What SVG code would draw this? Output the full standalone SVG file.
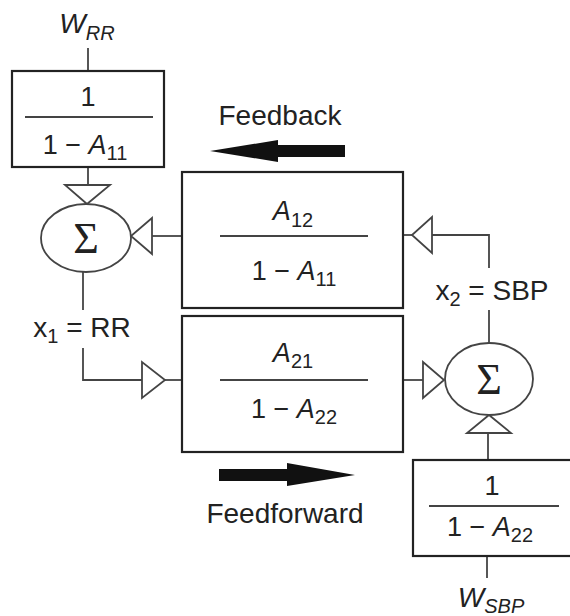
<svg xmlns="http://www.w3.org/2000/svg" width="570" height="616" viewBox="0 0 570 616">
<style>
text{font-family:"Liberation Sans",Arial,sans-serif;font-size:27px;fill:#222}
.lbl{font-size:28px}
.it{font-style:italic}
.sub{font-size:20px}
.sig{font-family:"Liberation Serif","Times New Roman",serif;font-size:44px;fill:#222}
.box{fill:#fff;stroke:#222;stroke-width:2.2}
.frac{stroke:#444;stroke-width:2}
.ln{fill:none;stroke:#444;stroke-width:1.8}
.tri{fill:#fff;stroke:#444;stroke-width:1.8;stroke-linejoin:miter}
.ell{fill:#fff;stroke:#444;stroke-width:1.8}
.big{fill:#111}
</style>
<rect width="570" height="616" fill="#fff"/>
<g id="connectors">
<line class="ln" x1="88" y1="48" x2="88" y2="71"/>
<line class="ln" x1="88" y1="167" x2="88" y2="185"/>
<polygon class="tri" points="65,185 110,185 87,204"/>
<polyline class="ln" points="182,236 152,236"/>
<polygon class="tri" points="152,218 152,254 131,236"/>
<line class="ln" x1="83" y1="272" x2="83" y2="310"/>
<polyline class="ln" points="83,348 83,380 142,380"/>
<polygon class="tri" points="142,362 142,398 165,380"/>
<line class="ln" x1="165" y1="380" x2="182" y2="380"/>
<line class="ln" x1="403" y1="380" x2="423" y2="380"/>
<polygon class="tri" points="423,362 423,398 444,380"/>
<line class="ln" x1="489" y1="343" x2="489" y2="310"/>
<polyline class="ln" points="489,268 489,235 432,235"/>
<polygon class="tri" points="432,217 432,253 412,235"/>
<line class="ln" x1="412" y1="235" x2="403" y2="235"/>
<polygon class="tri" points="467,433 511,433 489,415"/>
<line class="ln" x1="488" y1="433" x2="488" y2="460"/>
<line class="ln" x1="487" y1="556" x2="487" y2="578"/>
<polygon class="big" points="210,151 278,140 278,145 345,145 345,157 278,157 278,162"/>
<polygon class="big" points="355,475 287,463 287,469 219,469 219,481 287,481 287,486"/>
</g>
<text class="lbl" x="87" y="33" text-anchor="middle"><tspan class="it">W</tspan><tspan class="it sub" dy="7">RR</tspan></text>
<g id="g11">
<rect class="box" x="12" y="71" width="152" height="96"/>
<text x="88" y="106" text-anchor="middle">1</text>
<line class="frac" x1="25" y1="117" x2="153" y2="117"/>
<text x="85" y="154" text-anchor="middle">1 − <tspan class="it">A</tspan><tspan class="sub" dy="6">11</tspan></text>
</g>
<g id="sum1">
<ellipse class="ell" cx="86" cy="238" rx="45" ry="34"/>
<text class="sig" x="86" y="253" text-anchor="middle">Σ</text>
</g>
<text class="lbl" x="82" y="337" text-anchor="middle">x<tspan class="sub" dy="6">1</tspan><tspan dy="-6"> = RR</tspan></text>
<text class="lbl" x="280" y="125" text-anchor="middle">Feedback</text>
<g id="g12">
<rect class="box" x="182" y="172" width="221" height="136"/>
<text x="293" y="220" text-anchor="middle"><tspan class="it">A</tspan><tspan class="sub" dy="7">12</tspan></text>
<line class="frac" x1="220" y1="236" x2="368" y2="236"/>
<text x="294" y="280" text-anchor="middle">1 − <tspan class="it">A</tspan><tspan class="sub" dy="6">11</tspan></text>
</g>
<g id="g21">
<rect class="box" x="182" y="316" width="221" height="136"/>
<text x="293" y="362" text-anchor="middle"><tspan class="it">A</tspan><tspan class="sub" dy="6">21</tspan></text>
<line class="frac" x1="220" y1="380" x2="368" y2="380"/>
<text x="294" y="418" text-anchor="middle">1 − <tspan class="it">A</tspan><tspan class="sub" dy="6">22</tspan></text>
</g>
<text class="lbl" x="285" y="523" text-anchor="middle">Feedforward</text>
<text class="lbl" x="492" y="300" text-anchor="middle">x<tspan class="sub" dy="6">2</tspan><tspan dy="-6"> = SBP</tspan></text>
<g id="sum2">
<ellipse class="ell" cx="489" cy="379" rx="44" ry="36"/>
<text class="sig" x="489" y="394" text-anchor="middle">Σ</text>
</g>
<g id="g22">
<rect class="box" x="413" y="460" width="170" height="96"/>
<text x="492" y="495" text-anchor="middle">1</text>
<line class="frac" x1="429" y1="506" x2="559" y2="506"/>
<text x="490" y="536" text-anchor="middle">1 − <tspan class="it">A</tspan><tspan class="sub" dy="6">22</tspan></text>
</g>
<text class="lbl" x="491" y="607" text-anchor="middle"><tspan class="it">W</tspan><tspan class="it sub" dy="6">SBP</tspan></text>
</svg>
